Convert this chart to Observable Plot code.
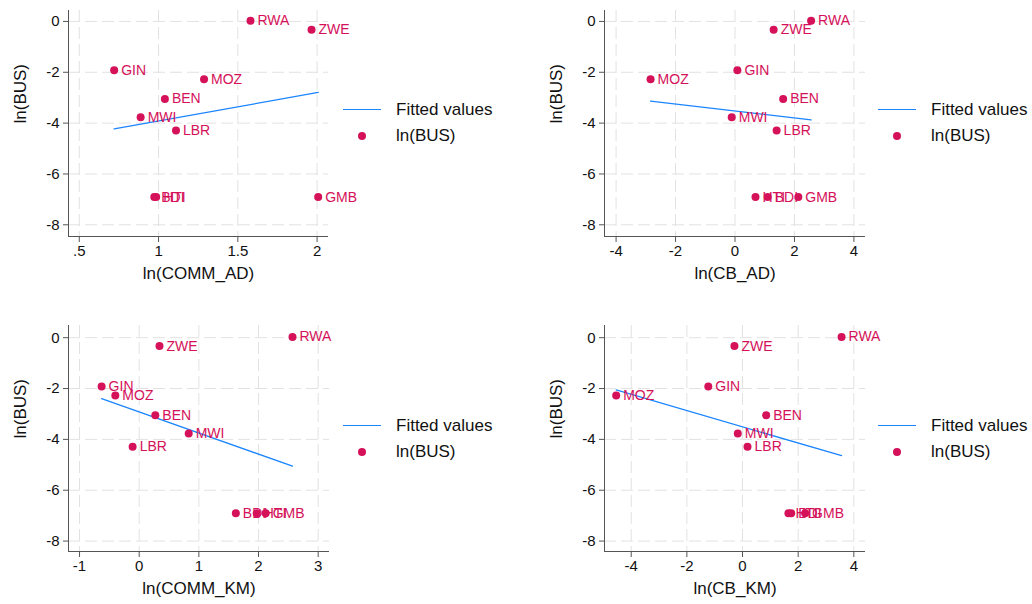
<!DOCTYPE html>
<html>
<head>
<meta charset="utf-8">
<script src="https://cdn.jsdelivr.net/npm/d3@7"></script>
<script src="https://cdn.jsdelivr.net/npm/@observablehq/plot@0.6"></script>
<style>
  html, body { margin: 0; padding: 0; background: #fff; }
  #root { position: relative; width: 1032px; height: 604px; background: #fff; font-family: "Liberation Sans", Arial, Helvetica, sans-serif; }
  .panel { position: absolute; }
  .panel svg { overflow: visible; }
  .leg-line { position: absolute; height: 0; border-top: 1.4px solid #1a85ff; width: 38px; }
  .leg-dot { position: absolute; width: 8px; height: 8px; border-radius: 50%; background: #d41159; }
  .leg-text { position: absolute; font-size: 17px; line-height: 20px; color: #111; white-space: nowrap; }
</style>
</head>
<body>
<div id="root"></div>
<script>
// ---- data ----
const codes     = ["RWA", "ZWE", "GIN", "MOZ", "BEN", "MWI", "LBR", "BDI", "HTI", "GMB"];
const lnBUS     = [0.03, -0.33, -1.92, -2.27, -3.05, -3.77, -4.29, -6.91, -6.91, -6.91];
const lnCOMM_AD = [1.58, 1.965, 0.72, 1.287, 1.04, 0.887, 1.11, 0.973, 0.985, 2.007];
const lnCB_AD   = [2.56, 1.30, 0.08, -2.84, 1.62, -0.11, 1.40, 1.10, 0.69, 2.13];
const lnCOMM_KM = [2.57, 0.34, -0.63, -0.40, 0.27, 0.83, -0.11, 1.62, 1.97, 2.12];
const lnCB_KM   = [3.56, -0.29, -1.23, -4.54, 0.85, -0.17, 0.18, 1.75, 1.65, 2.25];

const yTicks = [-8, -6, -4, -2, 0];
const xTicksCOMM_AD = [0.5, 1, 1.5, 2];
const xTicksCB_AD = [-4, -2, 0, 2, 4];
const xTicksCOMM_KM = [-1, 0, 1, 2, 3];
const xTicksCB_KM = [-4, -2, 0, 2, 4];

const yLabel = "ln(BUS)";
const legendLabels = ["Fitted values", "ln(BUS)"];

const RED = "#d41159", BLUE = "#1a85ff";
const FONT = "'Liberation Sans', Arial, Helvetica, sans-serif";
const root = document.getElementById("root");

function fmtX(d) {
  const s = String(d);
  return s.startsWith("0.") ? s.slice(1) : s;
}

function panel(cfg) {
  const data = codes.map((c, i) => ({ code: c, x: cfg.xs[i], y: lnBUS[i] }));
  const chart = Plot.plot({
    width: cfg.width,
    height: cfg.height,
    marginLeft: cfg.ml,
    marginRight: cfg.mr,
    marginTop: cfg.mt,
    marginBottom: cfg.mb,
    x: { domain: cfg.xdomain },
    y: { domain: cfg.ydomain },
    style: { fontFamily: FONT, fontSize: "15px", color: "#111", background: "transparent", overflow: "visible" },
    marks: [
      Plot.gridX(cfg.xticks, { stroke: "#e2e2e2", strokeOpacity: 1, strokeDasharray: "12,5" }),
      Plot.gridY(yTicks, { stroke: "#e2e2e2", strokeOpacity: 1, strokeDasharray: "12,5" }),
      Plot.ruleX([cfg.xdomain[0]], { stroke: "#555" }),
      Plot.ruleY([cfg.ydomain[0]], { stroke: "#555" }),
      Plot.axisX(cfg.xticks, { tickSize: 6, tickPadding: 3, stroke: "#555", tickFormat: fmtX, label: null }),
      Plot.axisY(yTicks, { tickSize: 5, tickPadding: 4, stroke: "#555", tickFormat: d => String(d), label: null }),
      Plot.text([cfg.xlabel], { frameAnchor: "bottom", dy: 42, fontSize: 17, fill: "#111", text: d => d }),
      Plot.text([yLabel], { frameAnchor: "left", dx: -48, rotate: -90, fontSize: 17, fill: "#111", text: d => d }),
      Plot.linearRegressionY(data, { x: "x", y: "y", ci: 0, stroke: BLUE, strokeWidth: 1.3 }),
      Plot.dot(data, { x: "x", y: "y", r: 4, fill: RED, stroke: "none" }),
      Plot.text(data, { x: "x", y: "y", text: "code", dx: 7, textAnchor: "start", fill: RED, fontSize: 14 })
    ]
  });
  const div = document.createElement("div");
  div.className = "panel";
  div.style.left = cfg.left + "px";
  div.style.top = cfg.top + "px";
  div.appendChild(chart);
  root.appendChild(div);

  // legend
  const L = cfg.legX, Y1 = cfg.legY, Y2 = cfg.legY + 26;
  const line = document.createElement("div");
  line.className = "leg-line";
  line.style.left = L + "px"; line.style.top = (Y1 - 0.7) + "px";
  root.appendChild(line);
  const dot = document.createElement("div");
  dot.className = "leg-dot";
  dot.style.left = (L + 15) + "px"; dot.style.top = (Y2 - 4) + "px";
  root.appendChild(dot);
  [Y1, Y2].forEach((yy, k) => {
    const t = document.createElement("div");
    t.className = "leg-text";
    t.textContent = legendLabels[k];
    t.style.left = (L + 53) + "px"; t.style.top = (yy - 10) + "px";
    root.appendChild(t);
  });
}

panel({ left: 0, top: 0, width: 340, height: 290, ml: 68, mr: 12, mt: 10, mb: 54,
        xs: lnCOMM_AD, xdomain: [0.432, 2.072], ydomain: [-8.46, 0.43], xticks: xTicksCOMM_AD,
        xlabel: "ln(COMM_AD)", legX: 343, legY: 110 });
panel({ left: 540, top: 0, width: 340, height: 290, ml: 64, mr: 15, mt: 10, mb: 54,
        xs: lnCB_AD, xdomain: [-4.39, 4.39], ydomain: [-8.46, 0.43], xticks: xTicksCB_AD,
        xlabel: "ln(CB_AD)", legX: 878, legY: 110 });
panel({ left: 0, top: 310, width: 340, height: 294, ml: 68, mr: 11, mt: 15, mb: 53,
        xs: lnCOMM_KM, xdomain: [-1.185, 3.19], ydomain: [-8.41, 0.48], xticks: xTicksCOMM_KM,
        xlabel: "ln(COMM_KM)", legX: 343, legY: 426 });
panel({ left: 540, top: 310, width: 340, height: 294, ml: 64, mr: 15, mt: 15, mb: 53,
        xs: lnCB_KM, xdomain: [-4.96, 4.42], ydomain: [-8.41, 0.48], xticks: xTicksCB_KM,
        xlabel: "ln(CB_KM)", legX: 878, legY: 426 });
</script>
</body>
</html>
